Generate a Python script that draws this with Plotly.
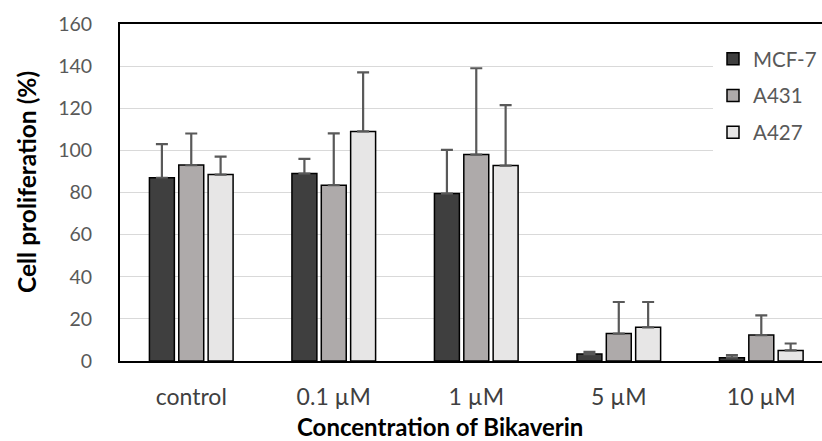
import plotly.graph_objects as go

categories = ["control", "0.1 µM", "1 µM", "5 µM", "10 µM"]
series_names = ["MCF-7", "A431", "A427"]
mcf7 = [87, 89, 79.5, 3.3, 1.6]
mcf7_err = [16, 7, 20.7, 1.0, 1.2]
a431 = [93, 83.5, 98, 13, 12.3]
a431_err = [15, 24.6, 41, 15, 9.4]
a427 = [88.5, 109, 92.8, 16, 5]
a427_err = [8.5, 28, 28.7, 12, 3.3]

values = [mcf7, a431, a427]
errors = [mcf7_err, a431_err, a427_err]
colors = ["#3f3f3f", "#aeaaaa", "#e7e6e6"]

W, H = 822, 441
L, T, B = 120, 24, 80
FONT = "Lato"

fig = go.Figure()
for i, name in enumerate(series_names):
    fig.add_trace(go.Bar(
        x=categories, y=values[i], name=name,
        legendgroup=name,
        marker=dict(color=colors[i], line=dict(color="#000000", width=1.5)),
        error_y=dict(type="data", array=errors[i], arrayminus=[0] * len(errors[i]),
                     symmetric=False, color="#595959", thickness=2.2, width=6),
    ))

pw = W - L
ph = H - T - B
def px_x(p):
    return (p - L) / pw
def px_y(p):
    return (H - B - p) / ph

fig.update_layout(
    width=W, height=H,
    margin=dict(l=L, r=0, t=T, b=B, pad=0),
    paper_bgcolor="white", plot_bgcolor="white",
    barmode="group", bargap=0.382, bargroupgap=0.15,
    font=dict(family=FONT, size=20, color="#595959"),
    showlegend=True,
    legend=dict(x=px_x(713), y=px_y(39), xanchor="left", yanchor="top",
                bgcolor="white", borderwidth=0, tracegroupgap=7,
                font=dict(family=FONT, size=20.5, color="#595959"),
                itemwidth=30),
    xaxis=dict(range=[-0.5, 4.426], showline=True, linecolor="#000000", linewidth=2,
               mirror=True, ticks="", showgrid=False, zeroline=False,
               tickfont=dict(family=FONT, size=23, color="#404040"),
               ticklabelstandoff=14),
    yaxis=dict(range=[0, 160], dtick=20, showline=True, linecolor="#000000", linewidth=2,
               ticks="", showgrid=True, gridcolor="#d9d9d9", gridwidth=1.2,
               zeroline=False,
               tickfont=dict(family=FONT, size=19.5, color="#595959"),
               ticklabelstandoff=22),
    annotations=[
        dict(text="<b>Cell proliferation (%)</b>", textangle=-90, xref="paper", yref="paper",
             x=px_x(26), y=px_y(182), showarrow=False, xanchor="center", yanchor="middle",
             font=dict(family=FONT, size=24.5, color="#000000")),
        dict(text="<b>Concentration of Bikaverin</b>", xref="paper", yref="paper",
             x=px_x(440), y=px_y(426), showarrow=False, xanchor="center", yanchor="middle",
             font=dict(family=FONT, size=24, color="#000000")),
    ],
)

fig.write_html("out.html")
